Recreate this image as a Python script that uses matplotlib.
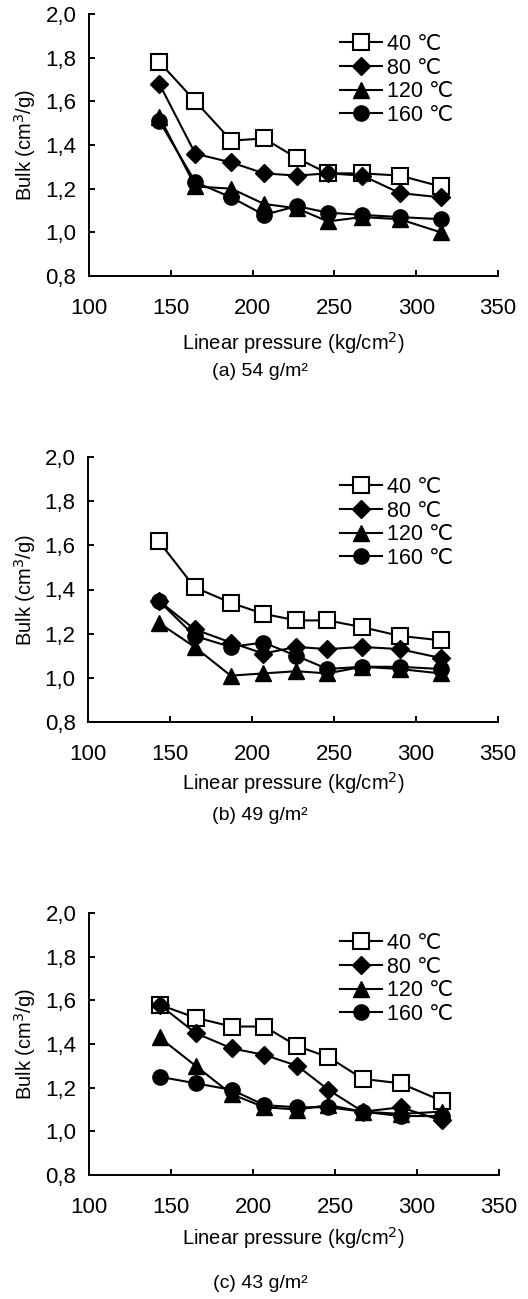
import matplotlib
matplotlib.use("Agg")
import matplotlib.pyplot as plt

plt.rcParams['font.family'] = ['Liberation Sans', 'DejaVu Sans']

pressure = [143, 165, 187, 207, 227, 246, 267, 290, 315]
temps = ["40 \u2103", "80 \u2103", "120 \u2103", "160 \u2103"]

bulk_a_40 = [1.78, 1.60, 1.42, 1.43, 1.34, 1.27, 1.27, 1.26, 1.21]
bulk_a_80 = [1.68, 1.36, 1.32, 1.27, 1.26, 1.27, 1.26, 1.18, 1.16]
bulk_a_120 = [1.53, 1.21, 1.20, 1.13, 1.11, 1.05, 1.07, 1.06, 1.00]
bulk_a_160 = [1.51, 1.23, 1.16, 1.08, 1.12, 1.09, 1.08, 1.07, 1.06]

bulk_b_40 = [1.62, 1.41, 1.34, 1.29, 1.26, 1.26, 1.23, 1.19, 1.17]
bulk_b_80 = [1.35, 1.22, 1.16, 1.11, 1.14, 1.13, 1.14, 1.13, 1.09]
bulk_b_120 = [1.25, 1.14, 1.01, 1.02, 1.03, 1.02, 1.05, 1.04, 1.02]
bulk_b_160 = [1.35, 1.19, 1.14, 1.16, 1.10, 1.04, 1.05, 1.05, 1.04]

bulk_c_40 = [1.58, 1.52, 1.48, 1.48, 1.39, 1.34, 1.24, 1.22, 1.14]
bulk_c_80 = [1.58, 1.45, 1.38, 1.35, 1.30, 1.19, 1.09, 1.11, 1.05]
bulk_c_120 = [1.43, 1.30, 1.17, 1.11, 1.10, 1.12, 1.09, 1.08, 1.09]
bulk_c_160 = [1.25, 1.22, 1.19, 1.12, 1.11, 1.11, 1.09, 1.07, 1.07]

panels = [
    ("(a) 54 g/m\u00b2", [bulk_a_40, bulk_a_80, bulk_a_120, bulk_a_160]),
    ("(b) 49 g/m\u00b2", [bulk_b_40, bulk_b_80, bulk_b_120, bulk_b_160]),
    ("(c) 43 g/m\u00b2", [bulk_c_40, bulk_c_80, bulk_c_120, bulk_c_160]),
]

W, H = 528, 1299
fig = plt.figure(figsize=(W / 100, H / 100), dpi=100)

# axes boxes in pixels: (left, right, top, bottom)
boxes = [(89, 498, 14, 276), (88, 498, 457, 722), (89, 499, 913, 1175)]
xlabel_y = [343, 783, 1238]
caption_y = [372, 815, 1283]

styles = [
    dict(marker='s', markersize=11.5, markerfacecolor='white', markeredgecolor='black', markeredgewidth=1.5),
    dict(marker='D', markersize=9.5, markerfacecolor='black', markeredgecolor='black'),
    dict(marker='^', markersize=11, markerfacecolor='black', markeredgecolor='black'),
    dict(marker='o', markersize=11, markerfacecolor='black', markeredgecolor='black'),
]

tick_fs = 16
for (caption, series), (l, r, t, b), xly, cy in zip(panels, boxes, xlabel_y, caption_y):
    ax = fig.add_axes([l / W, 1 - b / H, (r - l) / W, (b - t) / H])
    for vals, lab, st in zip(series, temps, styles):
        ax.plot(pressure, vals, color='black', linewidth=1.5, label=lab, clip_on=False, **st)
    ax.set_xlim(100, 350)
    ax.set_ylim(0.8, 2.0)
    ax.set_xticks([100, 150, 200, 250, 300, 350])
    ax.set_yticks([0.8, 1.0, 1.2, 1.4, 1.6, 1.8, 2.0])
    ax.set_yticklabels([f"{v:.1f}".replace('.', ',') for v in [0.8, 1.0, 1.2, 1.4, 1.6, 1.8, 2.0]])
    ax.spines['top'].set_visible(False)
    ax.spines['right'].set_visible(False)
    ax.spines['left'].set_linewidth(1.4)
    ax.spines['bottom'].set_linewidth(1.4)
    ax.tick_params(axis='both', direction='in', length=4, width=1.4, labelsize=tick_fs)
    ax.tick_params(axis='x', pad=15.5)
    ax.tick_params(axis='y', pad=9)
    fig.text(25 / W, 1 - ((t + b) / 2) / H, "Bulk (cm$^3$/g)", rotation=90,
             ha='center', va='center', fontsize=14.5)
    fig.text(293 / W, 1 - xly / H, "Linear pressure (kg/cm$^2$)", ha='center', va='center', fontsize=14.5)
    fig.text(260 / W, 1 - cy / H, caption, ha='center', va='center', fontsize=14)
    ax.legend(loc='upper left', bbox_to_anchor=((340 - l) / (r - l), 1 - (34 - 14) / (b - t)),
              frameon=False, fontsize=15.5, borderpad=0, borderaxespad=0,
              handlelength=1.95, handletextpad=0.25, labelspacing=0.12)

fig.savefig("out.png", dpi=100)
